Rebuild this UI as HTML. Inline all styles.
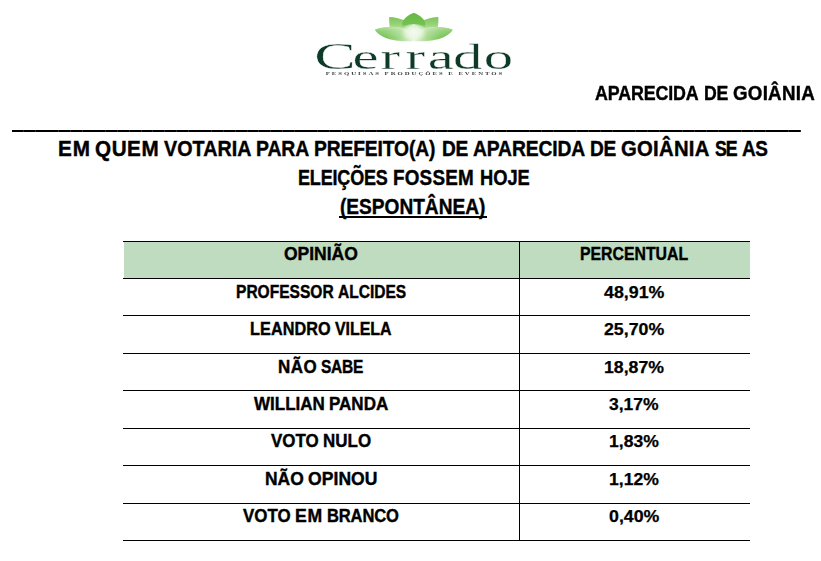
<!DOCTYPE html>
<html lang="pt-BR"><head><meta charset="utf-8"><title>Cerrado - Aparecida de Goiânia</title>
<style>
html,body{margin:0;padding:0;background:#fff;}
body{width:821px;height:561px;overflow:hidden;position:relative;font-family:"Liberation Sans",Arial,sans-serif;color:#000;}
.w{position:absolute;white-space:nowrap;font-weight:bold;transform-origin:0 0;-webkit-text-stroke:0.4px #000;}
.hl{position:absolute;background:#000;height:1px;}
.vl{position:absolute;background:#000;width:1px;}
</style></head><body>
<svg style="position:absolute;left:0;top:0;will-change:transform" width="821" height="90" viewBox="0 0 821 90">
<defs>
<linearGradient id="gOutL" x1="375" y1="30" x2="413" y2="33" gradientUnits="userSpaceOnUse">
<stop offset="0" stop-color="#66bb44"/><stop offset="0.3" stop-color="#79c558"/><stop offset="0.65" stop-color="#a3d889"/><stop offset="1" stop-color="#e2f3d9"/></linearGradient>
<linearGradient id="gOutR" x1="452.6" y1="30" x2="414.6" y2="33" gradientUnits="userSpaceOnUse">
<stop offset="0" stop-color="#66bb44"/><stop offset="0.3" stop-color="#79c558"/><stop offset="0.65" stop-color="#a3d889"/><stop offset="1" stop-color="#e2f3d9"/></linearGradient>
<linearGradient id="gOutV" x1="0" y1="26" x2="0" y2="38" gradientUnits="userSpaceOnUse">
<stop offset="0" stop-color="#f2faea" stop-opacity="0.55"/><stop offset="0.45" stop-color="#eef8e6" stop-opacity="0.25"/><stop offset="1" stop-color="#ffffff" stop-opacity="0"/></linearGradient>
<linearGradient id="gSide" x1="0" y1="17" x2="0" y2="32" gradientUnits="userSpaceOnUse">
<stop offset="0" stop-color="#7cc55a"/><stop offset="0.5" stop-color="#98d37a"/><stop offset="1" stop-color="#c6e8b4"/></linearGradient>
<linearGradient id="gCen" x1="0" y1="12.7" x2="0" y2="39" gradientUnits="userSpaceOnUse">
<stop offset="0" stop-color="#63b940"/><stop offset="0.45" stop-color="#74c252"/><stop offset="0.55" stop-color="#a2d889"/><stop offset="0.66" stop-color="#d8eecb"/><stop offset="1" stop-color="#eef8ea"/></linearGradient>
<radialGradient id="gIn" cx="413.8" cy="32" r="13" gradientUnits="userSpaceOnUse">
<stop offset="0" stop-color="#f6fbf3" stop-opacity="0.85"/><stop offset="0.7" stop-color="#e8f6e0" stop-opacity="0.5"/><stop offset="1" stop-color="#e0f2d6" stop-opacity="0"/></radialGradient>
<filter id="soft" x="-10%" y="-10%" width="120%" height="120%"><feGaussianBlur stdDeviation="0.55"/></filter>
</defs>
<g filter="url(#soft)">
<path d="M389.2,17.1 C394.5,17.4 399.5,18.4 404,20.3 L411,34 C401,33.5 393,30.5 389.8,27.5 C389.2,24 389,20.5 389.2,17.1 Z" fill="url(#gSide)"/>
<path d="M438.4,17.1 C433.1,17.4 428.1,18.4 423.6,20.3 L416.6,34 C426.6,33.5 434.6,30.5 437.8,27.5 C438.4,24 438.6,20.5 438.4,17.1 Z" fill="url(#gSide)"/>
<path d="M374.8,29.8 C380,27.6 387,26.8 393,26.8 C401,27 408,29 411.5,33 C413,35.5 413.6,38.5 413.4,41.2 C404,41.8 392,40.8 384,37.2 C379.5,35.2 376.5,32.3 374.8,29.8 Z" fill="url(#gOutL)"/>
<path d="M374.8,29.8 C380,27.6 387,26.8 393,26.8 C401,27 408,29 411.5,33 C413,35.5 413.6,38.5 413.4,41.2 C404,41.8 392,40.8 384,37.2 C379.5,35.2 376.5,32.3 374.8,29.8 Z" fill="url(#gOutV)"/>
<path d="M452.8,29.8 C447.6,27.6 440.6,26.8 434.6,26.8 C426.6,27 419.6,29 416.1,33 C414.6,35.5 414,38.5 414.2,41.2 C423.6,41.8 435.6,40.8 443.6,37.2 C448.1,35.2 451.1,32.3 452.8,29.8 Z" fill="url(#gOutR)"/>
<path d="M452.8,29.8 C447.6,27.6 440.6,26.8 434.6,26.8 C426.6,27 419.6,29 416.1,33 C414.6,35.5 414,38.5 414.2,41.2 C423.6,41.8 435.6,40.8 443.6,37.2 C448.1,35.2 451.1,32.3 452.8,29.8 Z" fill="url(#gOutV)"/>
<path d="M413.8,12.7 C409.5,14.5 404.5,17.5 402.8,21.5 C401.5,24.5 402.5,29 405.5,33 C408,36 411,38 413.8,39 C416.6,38 419.6,36 422.1,33 C425.1,29 426.1,24.5 424.8,21.5 C423.1,17.5 418.1,14.5 413.8,12.7 Z" fill="url(#gCen)"/>
<path d="M413.8,23.8 C410.5,25.5 407,28 405.5,31.2 C408,33.7 411,35.5 413.8,36.5 C416.6,35.5 419.6,33.7 422.1,31.2 C420.6,28 417.1,25.5 413.8,23.8 Z" fill="#eaf6e4" fill-opacity="0.6"/>
<ellipse cx="413.8" cy="32" rx="13" ry="8" fill="url(#gIn)"/>
</g>
<text transform="scale(1.68,1)" x="187.03 209.77 226.55 241.43 254.57 269.62 287.95" y="68.7" font-family="Liberation Serif, serif" font-size="35" fill="#0e3b28" stroke="#ffffff" stroke-width="0.3"><tspan font-size="37">C</tspan>errado</text>
<text transform="scale(1.50,1)" x="217.20" y="75.4" font-family="Liberation Serif, serif" font-weight="bold" font-size="4.5" fill="#3a3f3c" textLength="117.67" lengthAdjust="spacing">PESQUISAS PRODUÇÕES E EVENTOS</text>
</svg>
<span class="w" style="left:595.25px;top:83.72px;font-size:19.70px;line-height:19.70px;transform:scaleX(0.9060);letter-spacing:-0.14px;">APARECIDA</span> <span class="w" style="left:703.56px;top:83.72px;font-size:19.70px;line-height:19.70px;transform:scaleX(0.8975);letter-spacing:-0.37px;">DE</span> <span class="w" style="left:732.65px;top:83.72px;font-size:19.70px;line-height:19.70px;transform:scaleX(0.9530);letter-spacing:0.25px;">GOIÂNIA</span>
<div class="hl" style="left:12px;top:130px;width:789px;height:2px;background:repeating-linear-gradient(90deg,#000 0,#000 10.95px,#2a2a2a 10.95px,#2a2a2a 11.776px);"></div>
<span class="w" style="left:57.50px;top:138.57px;font-size:21.30px;line-height:21.30px;transform:scaleX(0.9722);letter-spacing:0.88px;">EM</span> <span class="w" style="left:94.81px;top:138.57px;font-size:21.30px;line-height:21.30px;transform:scaleX(0.9693);letter-spacing:0.59px;">QUEM</span> <span class="w" style="left:163.91px;top:138.57px;font-size:21.30px;line-height:21.30px;transform:scaleX(0.9251);letter-spacing:0.05px;">VOTARIA</span> <span class="w" style="left:256.19px;top:138.57px;font-size:21.30px;line-height:21.30px;transform:scaleX(0.9112);letter-spacing:-0.10px;">PARA</span> <span class="w" style="left:314.34px;top:138.57px;font-size:21.30px;line-height:21.30px;transform:scaleX(0.9034);letter-spacing:-0.13px;">PREFEITO(A)</span> <span class="w" style="left:441.65px;top:138.57px;font-size:21.30px;line-height:21.30px;transform:scaleX(0.8969);letter-spacing:-0.37px;">DE</span> <span class="w" style="left:472.86px;top:138.57px;font-size:21.30px;line-height:21.30px;transform:scaleX(0.9054);letter-spacing:-0.13px;">APARECIDA</span> <span class="w" style="left:590.01px;top:138.57px;font-size:21.30px;line-height:21.30px;transform:scaleX(0.8969);letter-spacing:-0.37px;">DE</span> <span class="w" style="left:621.48px;top:138.57px;font-size:21.30px;line-height:21.30px;transform:scaleX(0.9524);letter-spacing:0.28px;">GOIÂNIA</span> <span class="w" style="left:714.57px;top:138.57px;font-size:21.30px;line-height:21.30px;transform:scaleX(0.8346);letter-spacing:-1.38px;">SE</span> <span class="w" style="left:742.19px;top:138.57px;font-size:21.30px;line-height:21.30px;transform:scaleX(0.8892);letter-spacing:-0.51px;">AS</span>
<span class="w" style="left:298.39px;top:167.77px;font-size:21.30px;line-height:21.30px;transform:scaleX(0.8443);letter-spacing:-0.19px;">ELEIÇÕES</span> <span class="w" style="left:393.48px;top:167.77px;font-size:21.30px;line-height:21.30px;transform:scaleX(0.8856);letter-spacing:0.23px;">FOSSEM</span> <span class="w" style="left:479.90px;top:167.77px;font-size:21.30px;line-height:21.30px;transform:scaleX(0.8598);letter-spacing:-0.05px;">HOJE</span>
<span class="w" style="left:339.65px;top:196.87px;font-size:21.30px;line-height:21.30px;transform:scaleX(0.8966);">(ESPONTÂNEA)</span>
<div class="hl" style="left:339px;top:216px;width:148px;height:2px;"></div>
<div style="position:absolute;left:124px;top:242px;width:626px;height:36px;background:#bfdcc0;"></div>
<div class="hl" style="left:123px;top:241px;width:627px;"></div>
<div class="hl" style="left:123px;top:278px;width:627px;"></div>
<div class="hl" style="left:123px;top:315px;width:627px;"></div>
<div class="hl" style="left:123px;top:353px;width:627px;"></div>
<div class="hl" style="left:123px;top:390px;width:627px;"></div>
<div class="hl" style="left:123px;top:428px;width:627px;"></div>
<div class="hl" style="left:123px;top:465px;width:627px;"></div>
<div class="hl" style="left:123px;top:503px;width:627px;"></div>
<div class="hl" style="left:123px;top:540px;width:627px;"></div>
<div class="vl" style="left:519px;top:241px;height:300px;"></div>
<span class="w" style="left:284.06px;top:245.19px;font-size:18.20px;line-height:18.20px;transform:scaleX(0.9615);">OPINIÃO</span> <span class="w" style="left:580.02px;top:245.19px;font-size:18.20px;line-height:18.20px;transform:scaleX(0.8697);">PERCENTUAL</span>
<span class="w" style="left:236.02px;top:282.99px;font-size:18.20px;line-height:18.20px;transform:scaleX(0.8556);">PROFESSOR</span> <span class="w" style="left:337.82px;top:282.99px;font-size:18.20px;line-height:18.20px;transform:scaleX(0.8546);letter-spacing:-0.01px;">ALCIDES</span> <span class="w" style="left:603.74px;top:283.62px;font-size:16.40px;line-height:16.40px;transform:scaleX(1.0857);-webkit-text-stroke-width:0.25px;">48,91%</span>
<span class="w" style="left:250.49px;top:319.89px;font-size:18.20px;line-height:18.20px;transform:scaleX(0.8929);letter-spacing:0.07px;">LEANDRO</span> <span class="w" style="left:335.45px;top:319.89px;font-size:18.20px;line-height:18.20px;transform:scaleX(0.8769);letter-spacing:-0.06px;">VILELA</span> <span class="w" style="left:603.89px;top:320.52px;font-size:16.40px;line-height:16.40px;transform:scaleX(1.0831);-webkit-text-stroke-width:0.25px;">25,70%</span>
<span class="w" style="left:278.37px;top:358.19px;font-size:18.20px;line-height:18.20px;transform:scaleX(0.9326);letter-spacing:0.53px;">NÃO</span> <span class="w" style="left:321.32px;top:358.19px;font-size:18.20px;line-height:18.20px;transform:scaleX(0.8529);letter-spacing:-0.34px;">SABE</span> <span class="w" style="left:604.10px;top:358.82px;font-size:16.40px;line-height:16.40px;transform:scaleX(1.0792);-webkit-text-stroke-width:0.25px;">18,87%</span>
<span class="w" style="left:253.88px;top:394.99px;font-size:18.20px;line-height:18.20px;transform:scaleX(0.9349);">WILLIAN</span> <span class="w" style="left:329.29px;top:394.99px;font-size:18.20px;line-height:18.20px;transform:scaleX(0.9353);">PANDA</span> <span class="w" style="left:609.28px;top:395.62px;font-size:16.40px;line-height:16.40px;transform:scaleX(1.0697);-webkit-text-stroke-width:0.25px;">3,17%</span>
<span class="w" style="left:271.02px;top:431.99px;font-size:18.20px;line-height:18.20px;transform:scaleX(0.9307);letter-spacing:0.02px;">VOTO</span> <span class="w" style="left:323.09px;top:431.99px;font-size:18.20px;line-height:18.20px;transform:scaleX(0.9309);letter-spacing:0.03px;">NULO</span> <span class="w" style="left:609.18px;top:432.62px;font-size:16.40px;line-height:16.40px;transform:scaleX(1.0719);-webkit-text-stroke-width:0.25px;">1,83%</span>
<span class="w" style="left:264.86px;top:469.99px;font-size:18.20px;line-height:18.20px;transform:scaleX(0.9580);">NÃO</span> <span class="w" style="left:307.65px;top:469.99px;font-size:18.20px;line-height:18.20px;transform:scaleX(0.9642);letter-spacing:0.06px;">OPINOU</span> <span class="w" style="left:609.18px;top:470.62px;font-size:16.40px;line-height:16.40px;transform:scaleX(1.0719);-webkit-text-stroke-width:0.25px;">1,12%</span>
<span class="w" style="left:243.21px;top:506.99px;font-size:18.20px;line-height:18.20px;transform:scaleX(0.9292);letter-spacing:0.05px;">VOTO</span> <span class="w" style="left:295.18px;top:506.99px;font-size:18.20px;line-height:18.20px;transform:scaleX(0.9691);letter-spacing:0.64px;">EM</span> <span class="w" style="left:327.02px;top:506.99px;font-size:18.20px;line-height:18.20px;transform:scaleX(0.9087);letter-spacing:-0.14px;">BRANCO</span> <span class="w" style="left:608.62px;top:507.62px;font-size:16.40px;line-height:16.40px;transform:scaleX(1.0841);-webkit-text-stroke-width:0.25px;">0,40%</span>
</body></html>
